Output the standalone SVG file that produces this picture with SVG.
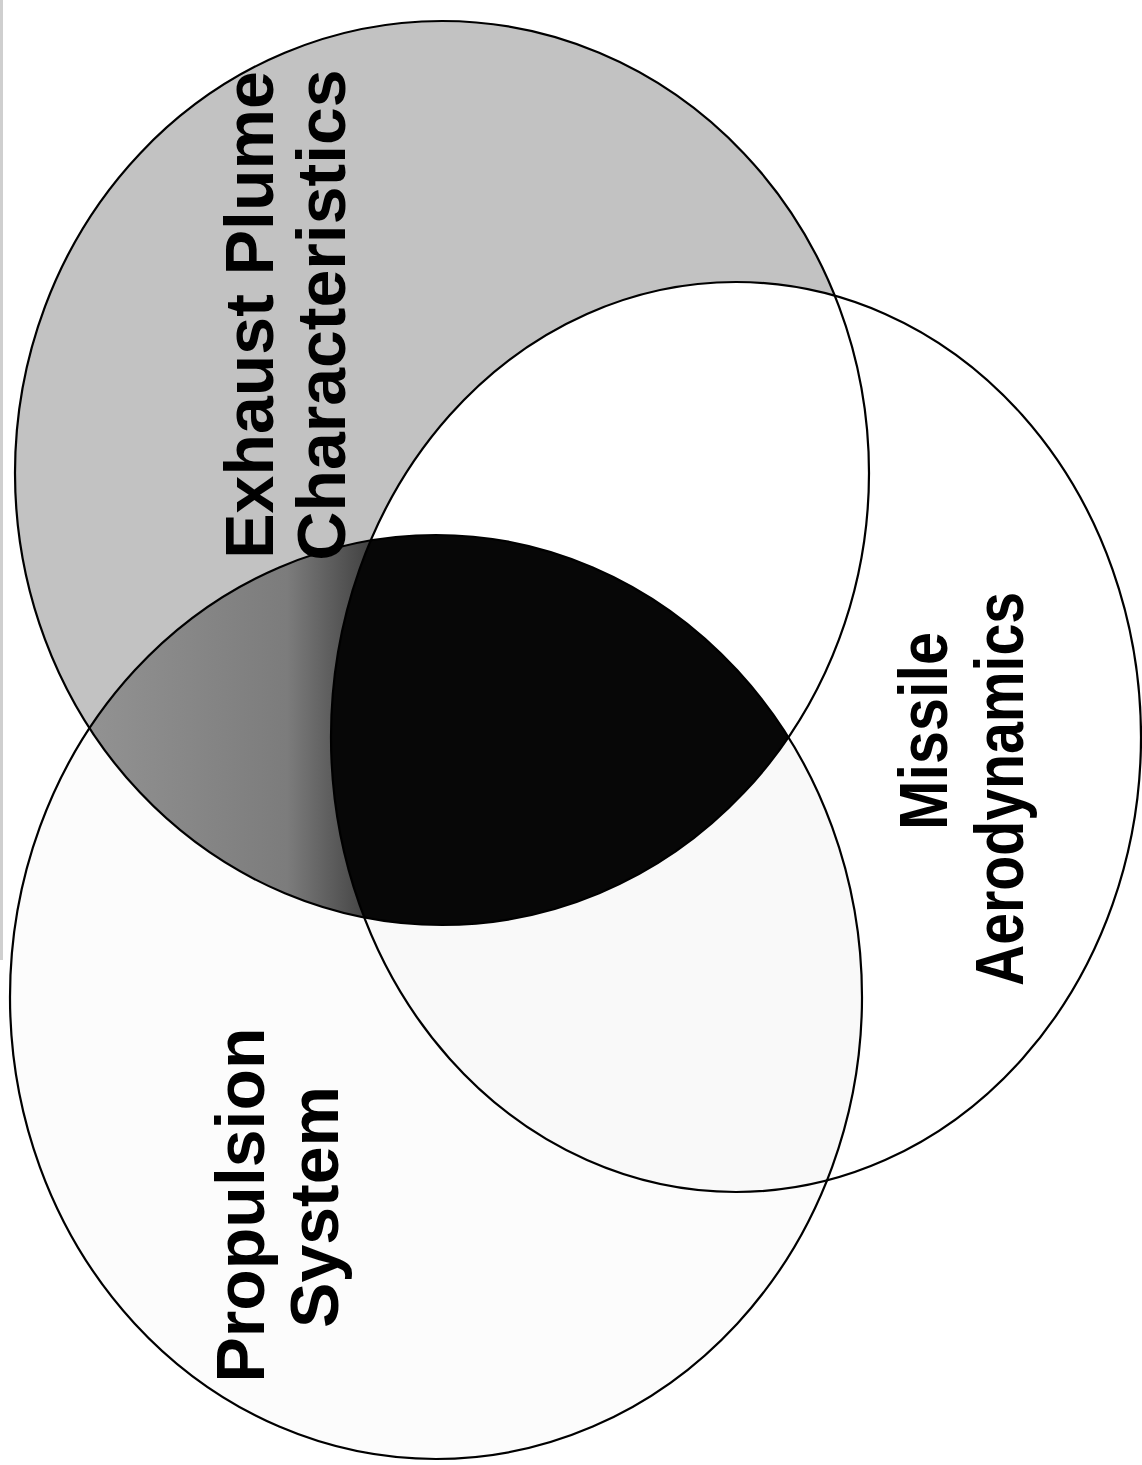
<svg xmlns="http://www.w3.org/2000/svg" width="1142" height="1465" viewBox="0 0 1142 1465">
  <style>
    .outline { fill: none; stroke: #000; stroke-width: 2.2; }
    .label { font-family: "Liberation Sans", Arial, Helvetica, sans-serif; font-weight: bold; font-size: 68px; fill: #000; text-anchor: middle; }
  </style>
  <defs>
    <clipPath id="clipE1"><ellipse cx="442" cy="473" rx="427" ry="452"/></clipPath>
    <clipPath id="clipE2"><ellipse cx="736" cy="737" rx="405" ry="455"/></clipPath>
    <linearGradient id="midGray" gradientUnits="userSpaceOnUse" x1="90" y1="0" x2="372" y2="0">
      <stop offset="0" stop-color="#929292"/>
      <stop offset="0.7" stop-color="#7c7c7c"/>
      <stop offset="1" stop-color="#404040"/>
    </linearGradient>
  </defs>
  <rect width="1142" height="1465" fill="#fff"/>
  <rect x="0" y="0" width="3" height="960" fill="#cfcfcf"/>

  <g id="regions">
    <ellipse cx="436" cy="997" rx="426" ry="462" fill="#fcfcfc"/>
    <ellipse cx="442" cy="473" rx="427" ry="452" fill="#c2c2c2"/>
    <ellipse cx="436" cy="997" rx="426" ry="462" fill="url(#midGray)" clip-path="url(#clipE1)"/>
    <ellipse cx="736" cy="737" rx="405" ry="455" fill="#fff"/>
    <ellipse cx="436" cy="997" rx="426" ry="462" fill="#f9f9f9" clip-path="url(#clipE2)"/>
    <g clip-path="url(#clipE1)">
      <ellipse cx="436" cy="997" rx="426" ry="462" fill="#070707" clip-path="url(#clipE2)"/>
    </g>
  </g>

  <g id="connectors"></g>

  <g id="node-exhaust">
    <ellipse class="outline" cx="442" cy="473" rx="427" ry="452"/>
    <text class="label" font-size="67" transform="translate(273,315) rotate(-90)">Exhaust Plume</text>
    <text class="label" font-size="69" transform="translate(345,315) rotate(-90)">Characteristics</text>
  </g>
  <g id="node-missile">
    <ellipse class="outline" cx="736" cy="737" rx="405" ry="455"/>
    <text class="label" font-size="66" transform="translate(947,731) rotate(-90)" textLength="198" lengthAdjust="spacingAndGlyphs">Missile</text>
    <text class="label" font-size="66" transform="translate(1023,789) rotate(-90)" textLength="394" lengthAdjust="spacingAndGlyphs">Aerodynamics</text>
  </g>
  <g id="node-propulsion">
    <ellipse class="outline" cx="436" cy="997" rx="426" ry="462"/>
    <text class="label" font-size="66" transform="translate(264,1205) rotate(-90)">Propulsion</text>
    <text class="label" font-size="66" transform="translate(338,1207) rotate(-90)">System</text>
  </g>
</svg>
